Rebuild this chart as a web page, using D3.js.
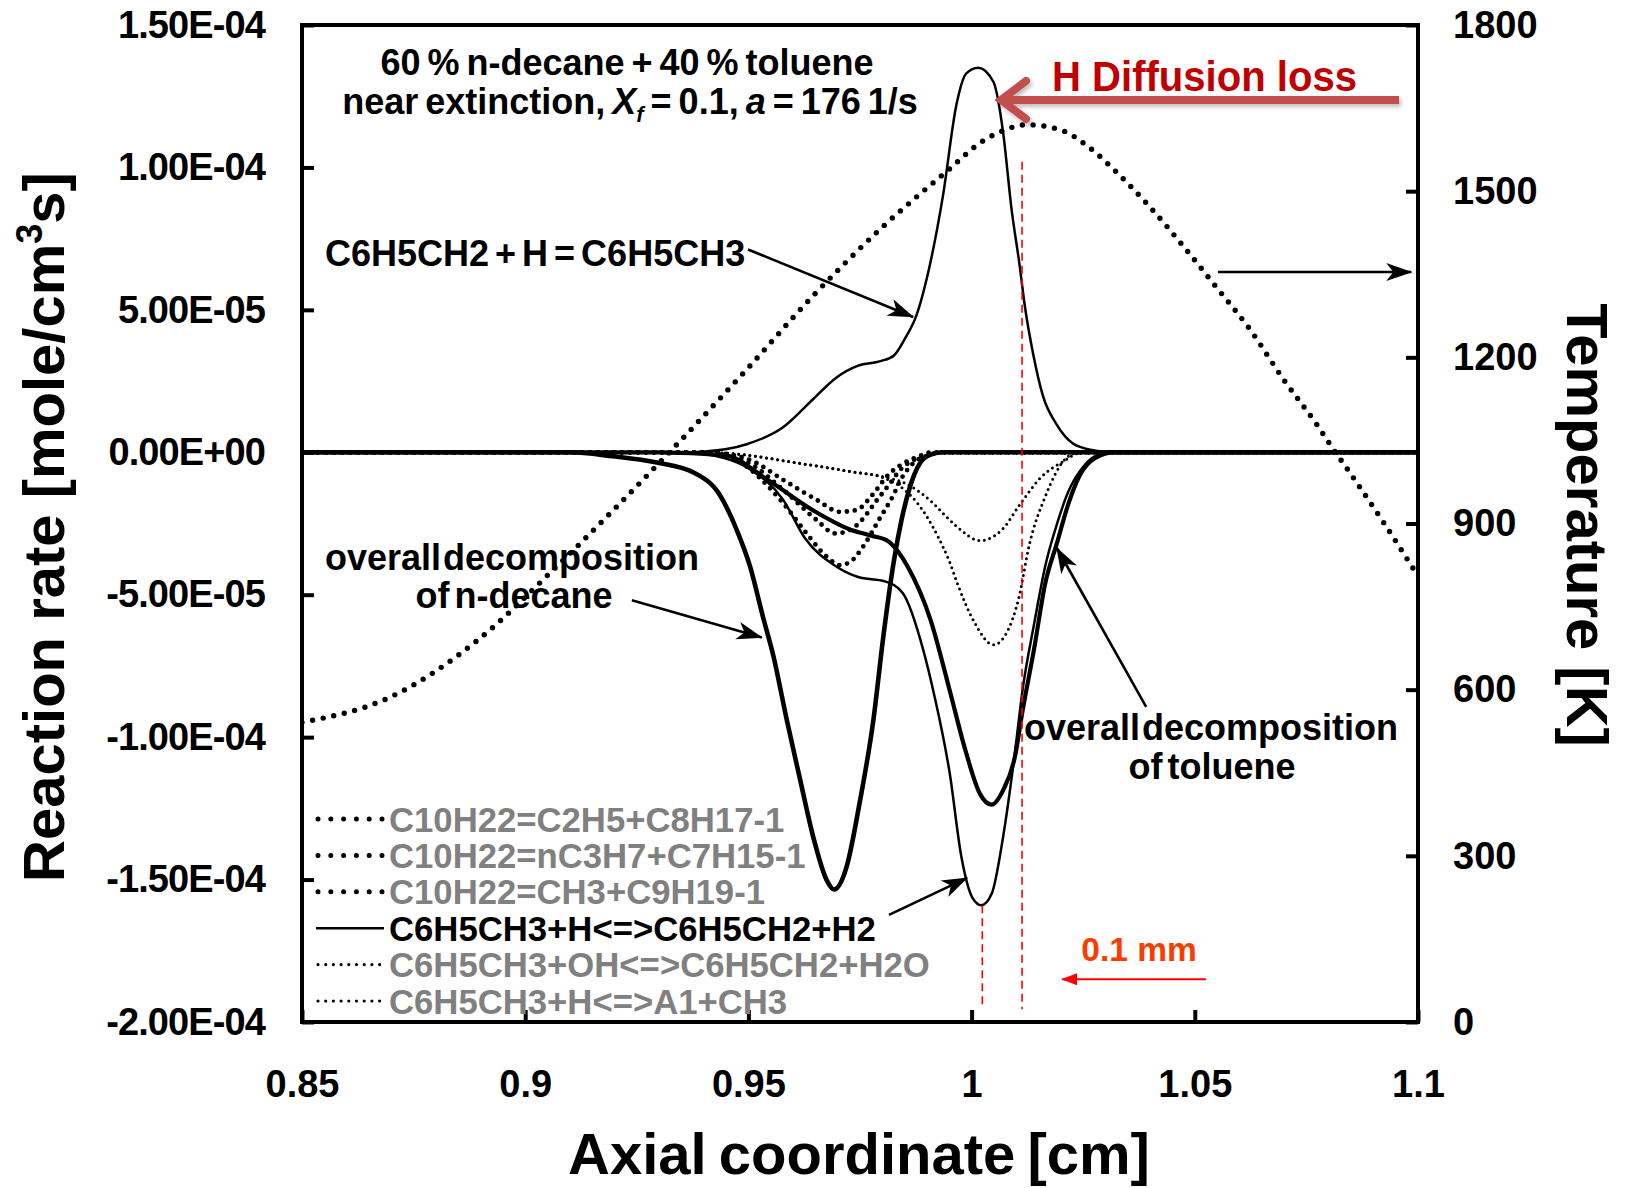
<!DOCTYPE html>
<html>
<head>
<meta charset="utf-8">
<script src="https://cdn.jsdelivr.net/npm/d3@7"></script>
<style>
  html, body { margin: 0; padding: 0; background: #fff; }
  svg text { font-family: "Liberation Sans", Arial, sans-serif; font-weight: bold; }
</style>
</head>
<body>
<svg id="chart" width="1630" height="1188"></svg>
<script>
// Axial coordinate in cm, reaction rates in units of 1e-5 mole/cm3s, temperature in K.
const xTicks = [0.85, 0.9, 0.95, 1, 1.05, 1.1];
const rateTicks = [-20, -15, -10, -5, 0, 5, 10, 15];
const tempTicks = [0, 300, 600, 900, 1200, 1500, 1800];

const temperature = [
  [0.85, 541], [0.8696, 586], [0.8896, 691], [0.9056, 811], [0.9196, 923],
  [0.9346, 1048], [0.9496, 1178], [0.9646, 1312], [0.9796, 1432], [0.9946, 1537],
  [1.0026, 1591], [1.0064, 1607], [1.0123, 1620], [1.0198, 1611], [1.0265, 1578],
  [1.0325, 1534], [1.04, 1471], [1.0474, 1401], [1.0549, 1326], [1.0624, 1250],
  [1.0698, 1161], [1.0773, 1079], [1.0807, 1038], [1.0848, 991], [1.0922, 903], [1.1, 805]
];

// C6H5CH2+H=C6H5CH3
const benzylRecomb = [
  [0.85, 0], [0.935, 0], [0.9396, 0.02], [0.9496, 0.28], [0.9576, 0.86], [0.9646, 1.88],
  [0.9696, 2.61], [0.9746, 3.04], [0.9796, 3.2], [0.9826, 3.4], [0.9851, 4.0], [0.9876, 4.79],
  [0.9906, 6.54], [0.9936, 9.02], [0.9966, 12.2], [0.9988, 13.3], [1.0015, 13.5],
  [1.0049, 13.0], [1.0071, 11.18], [1.0089, 8.6], [1.0108, 6.51], [1.0119, 5.16],
  [1.0138, 3.44], [1.016, 1.97], [1.019, 0.99], [1.0227, 0.31], [1.0272, 0.07],
  [1.031, 0], [1.1, 0]
];

// overall decomposition of n-decane
const decaneOverall = [
  [0.85, 0], [0.91, 0], [0.9196, -0.14], [0.9295, -0.36], [0.9376, -0.7], [0.9436, -1.5],
  [0.9474, -2.73], [0.9504, -4.02], [0.9533, -5.8], [0.9556, -7.15], [0.9586, -9.4],
  [0.9616, -11.5], [0.9645, -13.49], [0.9675, -15.01], [0.9692, -15.35], [0.972, -14.55],
  [0.9749, -12.32], [0.978, -9.4], [0.9802, -6.5], [0.9825, -3.9], [0.9843, -2.38],
  [0.9862, -1.21], [0.9884, -0.39], [0.9907, -0.09], [0.9937, 0], [1.1, 0]
];

// overall decomposition of toluene
const tolueneOverall = [
  [0.85, 0], [0.93, 0], [0.9446, -0.1], [0.9546, -1.0], [0.9646, -2.05], [0.9726, -2.7],
  [0.9776, -2.93], [0.9813, -3.12], [0.9836, -3.5], [0.9856, -3.99], [0.9908, -5.88],
  [0.9951, -8.36], [0.9985, -10.4], [1.0019, -12.0], [1.0045, -12.37], [1.0071, -11.85],
  [1.0097, -10.69], [1.0114, -9.09], [1.014, -6.9], [1.0165, -4.6], [1.0191, -3.2],
  [1.0217, -1.8], [1.0243, -0.79], [1.0277, -0.2], [1.032, 0], [1.1, 0]
];

// C6H5CH3+H<=>C6H5CH2+H2
const tolueneH = [
  [0.85, 0], [0.935, 0], [0.9446, -0.2], [0.9504, -0.6], [0.9578, -1.67], [0.9626, -3.0],
  [0.9696, -4.0], [0.9746, -4.38], [0.9806, -4.53], [0.9846, -4.95], [0.9891, -6.9],
  [0.9916, -8.5], [0.9951, -11.27], [0.9977, -14.19], [1.0002, -15.64], [1.0022, -15.9],
  [1.0045, -15.5], [1.0071, -13.46], [1.0097, -10.55], [1.0114, -8.36], [1.014, -6.03],
  [1.0165, -3.99], [1.0191, -2.53], [1.0217, -1.37], [1.0251, -0.49], [1.029, -0.05],
  [1.032, 0], [1.1, 0]
];

// C6H5CH3+OH<=>C6H5CH2+H2O
const tolueneOH = [
  [0.85, 0], [0.94, 0], [0.9466, -0.05], [0.96, -0.35], [0.973, -0.68], [0.98, -0.85],
  [0.9855, -1.12], [0.9914, -1.79], [0.9942, -2.24], [0.9967, -2.61], [1.0019, -3.1],
  [1.0069, -2.7], [1.011, -1.79], [1.0153, -0.92], [1.0213, -0.25], [1.0235, -0.05],
  [1.026, 0], [1.1, 0]
];

// C6H5CH3+H<=>A1+CH3
const tolueneA1 = [
  [0.85, 0], [0.94, 0], [0.9466, -0.05], [0.96, -0.35], [0.973, -0.68], [0.98, -0.88],
  [0.984, -1.2], [0.9877, -1.75], [0.9925, -2.97], [0.9952, -3.9], [0.9968, -4.6],
  [1.0004, -5.9], [1.0049, -6.76], [1.0079, -6.32], [1.0105, -5.16], [1.013, -3.2],
  [1.0165, -1.55], [1.0212, -0.2], [1.0235, -0.03], [1.026, 0], [1.1, 0]
];

// C10H22=C2H5+C8H17-1
const decaneC2H5 = [
  [0.85, 0], [0.94, 0], [0.9466, -0.15], [0.9504, -0.4], [0.9578, -1.32], [0.9653, -2.38],
  [0.9694, -2.85], [0.9728, -2.73], [0.975, -2.45], [0.9787, -1.7], [0.9817, -1.1],
  [0.984, -0.62], [0.9877, -0.21], [0.991, 0], [1.1, 0]
];

// C10H22=nC3H7+C7H15-1
const decaneC3H7 = [
  [0.85, 0], [0.94, 0], [0.9466, -0.2], [0.9504, -0.6], [0.9578, -1.79], [0.963, -2.84],
  [0.9675, -3.66], [0.9705, -3.96], [0.9728, -3.85], [0.9757, -3.31], [0.9795, -2.3],
  [0.9825, -1.5], [0.984, -1.0], [0.9869, -0.39], [0.9907, -0.09], [0.993, 0], [1.1, 0]
];

// C10H22=CH3+C9H19-1
const decaneCH3 = [
  [0.85, 0], [0.94, 0], [0.9466, -0.1], [0.9504, -0.27], [0.9578, -0.97], [0.9653, -1.67],
  [0.9705, -2.09], [0.9742, -2.03], [0.9776, -1.53], [0.9813, -0.8], [0.9862, -0.27],
  [0.9907, -0.05], [0.994, 0], [1.1, 0]
];

const legendLabels = [
  "C10H22=C2H5+C8H17-1",
  "C10H22=nC3H7+C7H15-1",
  "C10H22=CH3+C9H19-1",
  "C6H5CH3+H<=>C6H5CH2+H2",
  "C6H5CH3+OH<=>C6H5CH2+H2O",
  "C6H5CH3+H<=>A1+CH3"
];

// ---------------------------------------------------------------------------
const svg = d3.select("#chart");
const L = 302, R = 1418, T = 25, B = 1022;

const x = d3.scaleLinear().domain([0.85, 1.1]).range([L, R]);
const yR = d3.scaleLinear().domain([-20, 15]).range([B, T]);
const yT = d3.scaleLinear().domain([0, 1800]).range([B, T]);

const defs = svg.append("defs");
defs.append("clipPath").attr("id", "plotClip")
  .append("rect").attr("x", L).attr("y", T).attr("width", R - L).attr("height", B - T);

defs.append("marker").attr("id", "headBlack")
  .attr("viewBox", "0 -10 26 20").attr("refX", 25).attr("refY", 0)
  .attr("markerWidth", 26).attr("markerHeight", 20)
  .attr("markerUnits", "userSpaceOnUse").attr("orient", "auto")
  .append("path").attr("d", "M0,-9 L26,0 L0,9 L7,0 Z").attr("fill", "#000");

defs.append("marker").attr("id", "headRed")
  .attr("viewBox", "0 -7 16 14").attr("refX", 15).attr("refY", 0)
  .attr("markerWidth", 16).attr("markerHeight", 14)
  .attr("markerUnits", "userSpaceOnUse").attr("orient", "auto")
  .append("path").attr("d", "M0,-6 L16,0 L0,6 Z").attr("fill", "#ff0000");

const shadow = defs.append("filter").attr("id", "softShadow")
  .attr("x", "-5%").attr("y", "-50%").attr("width", "110%").attr("height", "200%");
shadow.append("feDropShadow").attr("dx", 2).attr("dy", 3).attr("stdDeviation", 2)
  .attr("flood-color", "#000").attr("flood-opacity", 0.25);

const fmtE = v => {
  if (v === 0) return "0.00E+00";
  const [m, e] = (v * 1e-5).toExponential(2).split("e");
  const n = +e;
  return `${m}E${n < 0 ? "-" : "+"}${String(Math.abs(n)).padStart(2, "0")}`;
};

// ---- curves ----------------------------------------------------------------
const plot = svg.append("g").attr("clip-path", "url(#plotClip)");
const rateLine = d3.line().x(d => x(d[0])).y(d => yR(d[1])).curve(d3.curveMonotoneX);
const tempLine = d3.line().x(d => x(d[0])).y(d => yT(d[1])).curve(d3.curveMonotoneX);

const coarseDot = { width: 4.8, dash: "0 8" };
const fineDot = { width: 3, dash: "0 5.6" };

const rateSeries = [
  { data: decaneC2H5, ...coarseDot },
  { data: decaneC3H7, ...coarseDot },
  { data: decaneCH3, ...coarseDot },
  { data: tolueneOH, ...fineDot },
  { data: tolueneA1, ...fineDot },
  { data: decaneOverall, width: 4.6, dash: null },
  { data: tolueneOverall, width: 4.2, dash: null },
  { data: tolueneH, width: 2.5, dash: null },
  { data: benzylRecomb, width: 2.5, dash: null }
];

plot.selectAll("path.rate").data(rateSeries).join("path")
  .attr("class", "rate")
  .attr("d", s => rateLine(s.data))
  .attr("fill", "none").attr("stroke", "#000")
  .attr("stroke-width", s => s.width)
  .attr("stroke-linecap", s => s.dash ? "round" : "butt")
  .attr("stroke-linejoin", "round")
  .attr("stroke-dasharray", s => s.dash);

plot.append("path")
  .attr("d", tempLine(temperature))
  .attr("fill", "none").attr("stroke", "#000")
  .attr("stroke-width", 5.4).attr("stroke-linecap", "round")
  .attr("stroke-dasharray", "0 10.8");

// ---- reference markers (0.1 mm spacing) ------------------------------------
const dashGuides = [
  { x: 1.0024, from: -15.9, to: -19.55 },
  { x: 1.0113, from: 10.2, to: -19.55 }
];
svg.append("g").selectAll("line").data(dashGuides).join("line")
  .attr("x1", d => x(d.x)).attr("x2", d => x(d.x))
  .attr("y1", d => yR(d.from)).attr("y2", d => yR(d.to))
  .attr("stroke", "#ff0000").attr("stroke-width", 1.6)
  .attr("stroke-dasharray", "8 5");

svg.append("line")
  .attr("x1", x(1.0525)).attr("x2", x(1.0203))
  .attr("y1", yR(-18.5)).attr("y2", yR(-18.5))
  .attr("stroke", "#ff0000").attr("stroke-width", 2.2)
  .attr("marker-end", "url(#headRed)");

svg.append("text").attr("x", 1139).attr("y", 961)
  .attr("text-anchor", "middle").attr("font-size", 33.5)
  .attr("fill", "#fa3c00").text("0.1 mm");

// ---- axes ------------------------------------------------------------------
const styleAxis = (g, size) => {
  g.select(".domain").remove();
  g.selectAll(".tick line").attr("stroke", "#000").attr("stroke-width", 4);
  g.selectAll(".tick text").attr("fill", "#000").attr("font-size", size)
    .attr("font-family", "Liberation Sans, Arial, sans-serif").attr("font-weight", "bold");
};

const gLeft = svg.append("g").attr("transform", `translate(${L},0)`)
  .call(d3.axisLeft(yR).tickValues(rateTicks).tickFormat(fmtE)
    .tickSizeInner(-12).tickSizeOuter(0).tickPadding(37));
styleAxis(gLeft, 38);
gLeft.selectAll(".tick text").attr("letter-spacing", -0.9);

const gRight = svg.append("g").attr("transform", `translate(${R},0)`)
  .call(d3.axisRight(yT).tickValues(tempTicks).tickFormat(d3.format("d"))
    .tickSizeInner(-12).tickSizeOuter(0).tickPadding(35));
styleAxis(gRight, 38);

const gBottom = svg.append("g").attr("transform", `translate(0,${B})`)
  .call(d3.axisBottom(x).tickValues(xTicks).tickFormat(d => String(d))
    .tickSizeInner(-12).tickSizeOuter(0).tickPadding(48));
styleAxis(gBottom, 38);

svg.append("rect").attr("x", L).attr("y", T).attr("width", R - L).attr("height", B - T)
  .attr("fill", "none").attr("stroke", "#000").attr("stroke-width", 4);

// axis titles
svg.append("text").attr("x", 859).attr("y", 1174).attr("text-anchor", "middle")
  .attr("font-size", 58).attr("word-spacing", -4).text("Axial coordinate [cm]");

const yTitle = svg.append("text").attr("transform", "translate(64,527) rotate(-90)")
  .attr("text-anchor", "middle").attr("font-size", 58);
yTitle.append("tspan").text("Reaction rate [mole/cm");
yTitle.append("tspan").attr("font-size", 36).attr("dy", -22).text("3");
yTitle.append("tspan").attr("dy", 22).text("s]");

svg.append("text").attr("transform", "translate(1567,525) rotate(90)")
  .attr("text-anchor", "middle").attr("font-size", 58).text("Temperature [K]");

// ---- annotations -----------------------------------------------------------
const title = svg.append("g").attr("font-size", 36).attr("word-spacing", -3);
title.append("text").attr("x", 627).attr("y", 75).attr("text-anchor", "middle")
  .text("60 % n-decane + 40 % toluene");
const t2 = title.append("text").attr("x", 630).attr("y", 114).attr("text-anchor", "middle");
t2.append("tspan").text("near extinction, ");
t2.append("tspan").attr("font-style", "italic").text("X");
t2.append("tspan").attr("font-style", "italic").attr("font-size", 22).attr("dy", 8).text("f");
t2.append("tspan").attr("dy", -8).text(" = 0.1, ");
t2.append("tspan").attr("font-style", "italic").text("a");
t2.append("tspan").text(" = 176 1/s");

svg.append("text").attr("x", 325).attr("y", 266).attr("font-size", 36)
  .attr("word-spacing", -4).text("C6H5CH2 + H = C6H5CH3");

const decLabel = svg.append("text").attr("font-size", 36).attr("text-anchor", "middle");
decLabel.append("tspan").attr("x", 512).attr("y", 570).attr("word-spacing", -8).text("overall decomposition");
decLabel.append("tspan").attr("x", 514).attr("y", 608).attr("word-spacing", -5).text("of n-decane");

const tolLabel = svg.append("text").attr("font-size", 36).attr("text-anchor", "middle");
tolLabel.append("tspan").attr("x", 1211).attr("y", 740).attr("word-spacing", -8).text("overall decomposition");
tolLabel.append("tspan").attr("x", 1212).attr("y", 779).attr("word-spacing", -5).text("of toluene");

// pointer arrows, anchored in data coordinates
const pointers = [
  { x1: 0.9499, y1: 7.12, x2: 0.9869, y2: 4.75, axis: yR },
  { x1: 0.9239, y1: -5.19, x2: 0.953, y2: -6.5, axis: yR },
  { x1: 0.9815, y1: -16.24, x2: 0.999, y2: -14.94, axis: yR },
  { x1: 1.0391, y1: -8.94, x2: 1.0191, y2: -3.36, axis: yR },
  { x1: 1.0552, y1: 1354, x2: 1.0985, y2: 1354, axis: yT }
];
svg.append("g").selectAll("line").data(pointers).join("line")
  .attr("x1", d => x(d.x1)).attr("y1", d => d.axis(d.y1))
  .attr("x2", d => x(d.x2)).attr("y2", d => d.axis(d.y2))
  .attr("stroke", "#000").attr("stroke-width", 2.6)
  .attr("marker-end", "url(#headBlack)");

// H diffusion loss callout
const hArrow = svg.append("g").attr("filter", "url(#softShadow)")
  .attr("stroke", "#c0504d").attr("stroke-width", 8).attr("fill", "none");
const hy = yR(12.37), hx = x(1.0066);
hArrow.append("line").attr("x1", x(1.1) - 19).attr("x2", hx + 4).attr("y1", hy).attr("y2", hy);
hArrow.append("path").attr("stroke-linejoin", "miter").attr("stroke-linecap", "round")
  .attr("d", `M${hx + 25},${hy - 19} L${hx},${hy} L${hx + 25},${hy + 19}`);

svg.append("text").attr("x", 1052).attr("y", 91)
  .attr("font-family", "Lato, 'Open Sans', sans-serif").attr("font-size", 42)
  .attr("fill", "#c00000").attr("textLength", 305).attr("lengthAdjust", "spacingAndGlyphs")
  .text("H Diffusion loss");

// ---- legend ----------------------------------------------------------------
const legendStyles = [
  { color: "#808080", width: 5, dash: "0 12.8" },
  { color: "#808080", width: 5, dash: "0 12.8" },
  { color: "#808080", width: 5, dash: "0 12.8" },
  { color: "#000000", width: 2.5, dash: null },
  { color: "#808080", width: 3.2, dash: "0 7.7" },
  { color: "#808080", width: 3.2, dash: "0 7.7" }
];
const legend = svg.append("g");
const rows = legend.selectAll("g").data(legendLabels).join("g")
  .attr("transform", (d, i) => `translate(0,${819 + i * 36.4})`);
rows.append("line")
  .attr("x1", (d, i) => legendStyles[i].dash ? 318 : 316)
  .attr("x2", 384).attr("y1", 0).attr("y2", 0)
  .attr("stroke", "#000")
  .attr("stroke-width", (d, i) => legendStyles[i].width)
  .attr("stroke-linecap", (d, i) => legendStyles[i].dash ? "round" : "butt")
  .attr("stroke-dasharray", (d, i) => legendStyles[i].dash);
rows.append("text").attr("x", 389).attr("y", 12.5)
  .attr("font-size", 34.7)
  .attr("fill", (d, i) => legendStyles[i].color)
  .text(d => d);
</script>
</body>
</html>
